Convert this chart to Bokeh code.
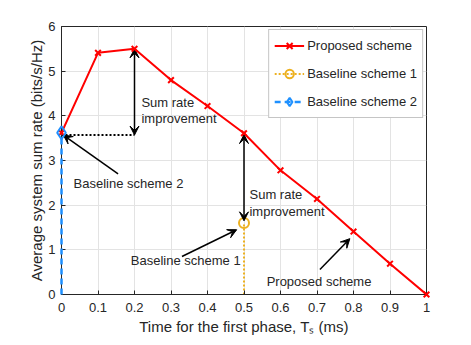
from bokeh.plotting import figure
from bokeh.models import (FixedTicker, Legend, LegendItem, Arrow, VeeHead, Label, Range1d)
from bokeh.embed import file_html
from bokeh.resources import INLINE

# ---- data ----
ts = [0.0, 0.1, 0.2, 0.3, 0.4, 0.5, 0.6, 0.7, 0.8, 0.9, 1.0]
proposed = [3.62, 5.41, 5.50, 4.80, 4.22, 3.61, 2.78, 2.14, 1.41, 0.69, 0.0]
baseline1_x = [0.5]
baseline1_y = [1.60]
baseline2_x = [0.0]
baseline2_y = [3.62]
x_ticks = [0.0, 0.1, 0.2, 0.3, 0.4, 0.5, 0.6, 0.7, 0.8, 0.9, 1.0]
x_tick_labels = ["0", "0.1", "0.2", "0.3", "0.4", "0.5", "0.6", "0.7", "0.8", "0.9", "1"]
y_ticks = [0, 1, 2, 3, 4, 5, 6]

FONT = "Liberation Sans"
AX = "#262626"
RED = "#FF0000"
ORANGE = "#EDB120"
BLUE = "#1E90FF"

p = figure(width=463, height=337, x_range=Range1d(0, 1), y_range=Range1d(0, 6),
           output_backend="svg", toolbar_location=None,
           min_border_left=61, min_border_right=37, min_border_top=26, min_border_bottom=42,
           x_axis_label="Time for the first phase, Tₛ (ms)",
           y_axis_label="Average system sum rate (bits/s/Hz)")
p.outline_line_color = AX
p.outline_line_width = 1
p.background_fill_color = "white"

for ax in p.xaxis + p.yaxis:
    ax.axis_line_color = AX
    ax.major_tick_line_color = AX
    ax.minor_tick_line_color = None
    ax.major_tick_in = 4
    ax.major_tick_out = 0
    ax.major_label_text_font = FONT
    ax.major_label_text_font_size = "13px"
    ax.major_label_text_color = AX
    ax.axis_label_text_font = FONT
    ax.axis_label_text_font_size = "15px"
    ax.axis_label_text_font_style = "normal"
    ax.axis_label_text_color = AX

p.xaxis.ticker = FixedTicker(ticks=x_ticks)
p.xaxis.major_label_overrides = {t: l for t, l in zip(x_ticks, x_tick_labels)}
p.yaxis.ticker = FixedTicker(ticks=y_ticks)
p.xaxis.major_label_standoff = 8
p.xaxis.axis_label_standoff = 3
p.yaxis.major_label_standoff = 6
p.yaxis.axis_label_standoff = 0

p.xgrid.ticker = FixedTicker(ticks=x_ticks)
p.ygrid.ticker = FixedTicker(ticks=y_ticks)
p.grid.grid_line_color = "#e3e3e3"
p.grid.grid_line_width = 1

# baseline 2 (dashed vertical)
b2_line = p.line([baseline2_x[0], baseline2_x[0]], [0, baseline2_y[0]], line_color=BLUE,
                 line_width=2.5, line_dash="6 4", level="overlay")
# baseline 1 (dotted vertical)
b1_line = p.line([baseline1_x[0], baseline1_x[0]], [0, baseline1_y[0]], line_color=ORANGE,
                 line_width=2, line_dash="2 2")

# proposed
pr_line = p.line(ts, proposed, line_color=RED, line_width=2)
pr_mark = p.scatter(ts, proposed, marker="x", size=8, line_color=RED, line_width=2,
                    level="overlay")

b1_mark = p.scatter(baseline1_x, baseline1_y, marker="circle", size=10, fill_color=None,
                    line_color=ORANGE, line_width=2)
b2_mark = p.scatter(baseline2_x, baseline2_y, marker="diamond", size=13, fill_color=None,
                    line_color=BLUE, line_width=2, level="overlay")

# annotations
dot_y = 3.57
p.line([0, ts[2]], [dot_y, dot_y], line_color="black", line_width=2, line_dash="2 2")

def head():
    return VeeHead(size=9, fill_color="black", line_color="black", line_width=1)

p.add_layout(Arrow(start=head(), end=head(), x_start=ts[2], y_start=dot_y, x_end=ts[2],
                   y_end=proposed[2], line_color="black", line_width=1.5))
p.add_layout(Arrow(start=head(), end=head(), x_start=baseline1_x[0], y_start=baseline1_y[0] + 0.05,
                   x_end=baseline1_x[0], y_end=proposed[5] - 0.03, line_color="black", line_width=1.5))
p.add_layout(Arrow(end=head(), x_start=0.155, y_start=2.7, x_end=0.005, y_end=dot_y,
                   line_color="black", line_width=1.5))
p.add_layout(Arrow(end=head(), x_start=0.33, y_start=0.85, x_end=0.48, y_end=1.45,
                   line_color="black", line_width=1.5))
p.add_layout(Arrow(end=head(), x_start=0.708, y_start=0.56, x_end=0.79, y_end=1.25,
                   line_color="black", line_width=1.5))

def lab(x, y, t):
    p.add_layout(Label(x=x, y=y, text=t, text_font=FONT, text_font_size="13px",
                       text_color=AX, text_baseline="middle", text_align="left"))

lab(0.219, 4.29, "Sum rate")
lab(0.219, 3.94, "improvement")
lab(0.515, 2.23, "Sum rate")
lab(0.515, 1.86, "improvement")
lab(0.033, 2.48, "Baseline scheme 2")
lab(0.19, 0.77, "Baseline scheme 1")
lab(0.562, 0.30, "Proposed scheme")

legend = Legend(items=[
    LegendItem(label="Proposed scheme", renderers=[pr_line, pr_mark]),
    LegendItem(label="Baseline scheme 1", renderers=[b1_line, b1_mark]),
    LegendItem(label="Baseline scheme 2", renderers=[b2_line, b2_mark]),
], location="top_right", margin=3, padding=5, spacing=7, glyph_width=30, glyph_height=21,
   label_height=21, label_standoff=3, label_text_font=FONT, label_text_font_size="13px",
   label_text_color=AX, border_line_color="#8c8c8c", border_line_width=1,
   background_fill_color="white", background_fill_alpha=1)
p.add_layout(legend)

open("out.html", "w").write(file_html(p, INLINE))
